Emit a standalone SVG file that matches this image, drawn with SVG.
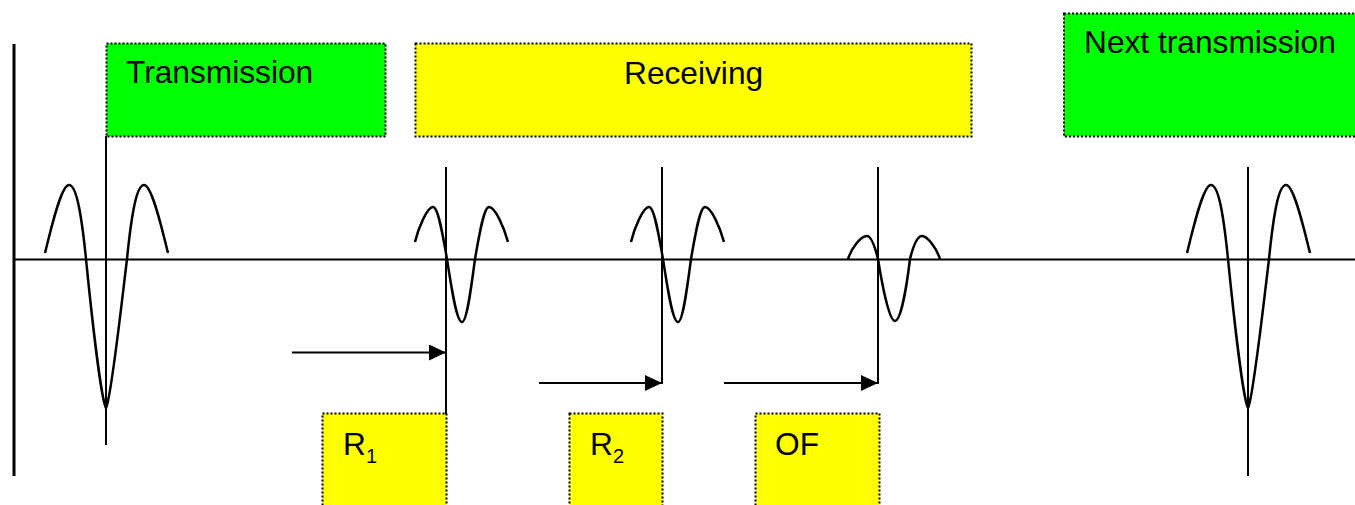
<svg xmlns="http://www.w3.org/2000/svg" width="1355" height="505" viewBox="0 0 1355 505">
<style>
.box{stroke:#000;stroke-width:2;stroke-dasharray:2 2}
.g{fill:#00FF00}
.y{fill:#FFFF00}
.ln{stroke:#000;stroke-width:2;fill:none}
.wave{stroke:#000;stroke-width:2.5;fill:none;stroke-linejoin:round}
.t{font-family:"Liberation Sans",Arial,sans-serif;font-size:31.7px;fill:#000}
</style>
<defs>
<marker id="ah" markerWidth="17" markerHeight="16" refX="17" refY="8" orient="auto" markerUnits="userSpaceOnUse">
<path d="M0,0 L17,8 L0,16 Z" fill="#000"/>
</marker>
<path id="big" d="M-61,-6 C-55,-30 -45,-74 -37,-74 C-29,-74 -24,-40 -20,0 C-15,50 -5,140 0,149 C5,140 15,50 21,0 C25,-40 30,-74 38,-74 C46,-74 56,-30 62,-6"/>
</defs>
<g id="axes">
<line class="ln" x1="14" y1="44" x2="14" y2="476" style="stroke-width:3"/>
<line class="ln" x1="14" y1="259.5" x2="1355" y2="259.5"/>
</g>
<g id="transmission">
<rect class="box g" x="106.5" y="43.5" width="279" height="93"/>
<text class="t" x="126" y="83">Transmission</text>
</g>
<g id="receiving">
<rect class="box y" x="415.5" y="43.5" width="556" height="93"/>
<text class="t" x="624" y="84">Receiving</text>
</g>
<g id="next-transmission">
<rect class="box g" x="1064" y="13.5" width="310" height="123"/>
<text class="t" x="1084" y="53">Next transmission</text>
</g>
<g id="r1">
<rect class="box y" x="322.5" y="413.5" width="124" height="120"/>
<text class="t" x="343" y="455">R<tspan font-size="20" dy="8">1</tspan></text>
</g>
<g id="r2">
<rect class="box y" x="569.5" y="413.5" width="93" height="120"/>
<text class="t" x="590" y="455">R<tspan font-size="20" dy="8">2</tspan></text>
</g>
<g id="of">
<rect class="box y" x="755.5" y="413.5" width="124" height="120"/>
<text class="t" x="775" y="455">OF</text>
</g>
<g id="wavelets">
<use href="#big" class="wave" transform="translate(106,259)"/>
<use href="#big" class="wave" transform="translate(1248,259)"/>
<path class="wave" transform="translate(446,259)" d="M-31,-17 C-28,-30 -19,-52 -13,-52 C-7.9,-52 -3.6,-26.6 1,0 C5.9,32 10.6,63 16,63 C20.7,63 24.8,32 29,0 C33.6,-26.6 37.9,-52 43,-52 C49,-52 58,-32 62,-17"/>
<path class="wave" transform="translate(662,259)" d="M-31,-17 C-28,-30 -19,-52 -13,-52 C-7.9,-52 -3.6,-26.6 1,0 C5.9,32 10.6,63 16,63 C20.7,63 24.8,32 29,0 C33.6,-26.6 37.9,-52 43,-52 C49,-52 58,-32 62,-17"/>
<path class="wave" transform="translate(878,259)" d="M-30,0 C-26,-12 -17,-23 -11,-23 C-7,-23 -3,-12 0,0 C4,25 11,62 17,62 C23,62 29,25 32,0 C35,-12 39,-23 44,-23 C49,-23 58,-12 62,0"/>
</g>
<g id="connectors">
<line class="ln" x1="106" y1="136" x2="106" y2="445"/>
<line class="ln" x1="446" y1="167" x2="446" y2="414"/>
<line class="ln" x1="662" y1="167" x2="662" y2="384"/>
<line class="ln" x1="878" y1="167" x2="878" y2="384"/>
<line class="ln" x1="1248" y1="167" x2="1248" y2="476"/>
<line class="ln" x1="292" y1="352.5" x2="446" y2="352.5" marker-end="url(#ah)"/>
<line class="ln" x1="539" y1="383" x2="662" y2="383" marker-end="url(#ah)"/>
<line class="ln" x1="724" y1="383" x2="878" y2="383" marker-end="url(#ah)"/>
</g>
</svg>
